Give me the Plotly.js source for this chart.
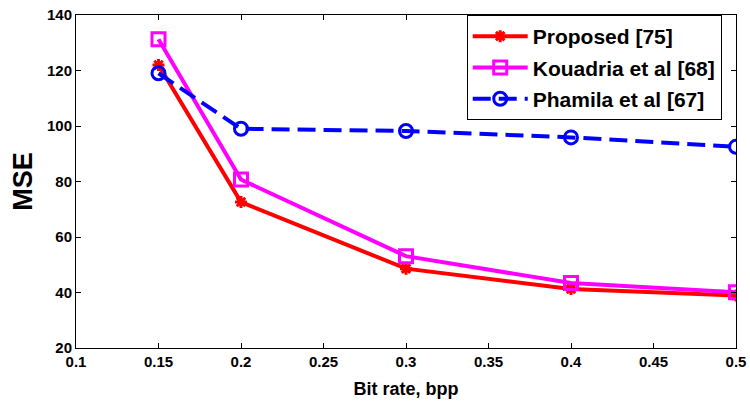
<!DOCTYPE html>
<html>
<head>
<meta charset="utf-8">
<script src="https://cdn.plot.ly/plotly-3.0.1.min.js"></script>
<style>html,body{margin:0;padding:0;background:#fff}#chart{width:750px;height:401px}</style>
</head>
<body>
<div id="chart"></div>
<script>
var bitRate = [0.15, 0.2, 0.3, 0.4, 0.5];
var proposed = [122, 72.6, 48.6, 41.3, 38.9];
var kouadria = [131.3, 80.7, 53.1, 43.4, 40.1];
var phamila = [119, 99, 98.2, 95.9, 92.5];
var seriesNames = ["Proposed [75]", "Kouadria et al [68]", "Phamila et al [67]"];
var xTicks = [0.1, 0.15, 0.2, 0.25, 0.3, 0.35, 0.4, 0.45, 0.5];
var xTickText = ["0.1", "0.15", "0.2", "0.25", "0.3", "0.35", "0.4", "0.45", "0.5"];
var yTicks = [20, 40, 60, 80, 100, 120, 140];
var yTickText = ["20", "40", "60", "80", "100", "120", "140"];

var fam = "Liberation Sans, Arial, sans-serif";
function b(s) { return "<b>" + s + "</b>"; }

var traces = [
  {x: bitRate, y: proposed, name: b(seriesNames[0]), legendgroup: "g1", mode: "lines+markers",
   line: {color: "#ff0000", width: 4},
   marker: {symbol: "asterisk-open", size: 10, color: "#ff0000", line: {color: "#ff0000", width: 3}}},
  {x: bitRate, y: kouadria, name: b(seriesNames[1]), legendgroup: "g2", mode: "lines+markers",
   line: {color: "#ff00ff", width: 4},
   marker: {symbol: "square-open", size: 13, color: "#ff00ff", line: {color: "#ff00ff", width: 3}}},
  {x: bitRate, y: phamila, name: b(seriesNames[2]), legendgroup: "g3", mode: "lines+markers",
   line: {color: "#0000ff", width: 4, dash: "18px,8px"},
   marker: {symbol: "circle-open", size: 13, color: "#0000ff", line: {color: "#0000ff", width: 3}}}
];

var axisCommon = {
  showline: true, linecolor: "#000", linewidth: 1, mirror: "ticks",
  ticks: "inside", ticklen: 5, tickcolor: "#000", tickwidth: 1,
  showgrid: false, zeroline: false,
  tickfont: {family: fam, size: 15, color: "#000", weight: 700}
};

var layout = {
  width: 750, height: 401,
  margin: {l: 76, r: 14, t: 15, b: 53},
  paper_bgcolor: "#fff", plot_bgcolor: "#fff",
  showlegend: true,
  legend: {x: 0.592, xanchor: "left", y: 1, yanchor: "top",
    bgcolor: "#fff", bordercolor: "#000", borderwidth: 1, tracegroupgap: 1, itemwidth: 55,
    font: {family: fam, size: 21, color: "#000", weight: 700}},
  xaxis: Object.assign({}, axisCommon, {
    range: [0.1, 0.5], tickvals: xTicks, ticktext: xTickText.map(b),
    title: {text: b("Bit rate, bpp"), standoff: 13, font: {family: fam, size: 18, color: "#000", weight: 700}}
  }),
  yaxis: Object.assign({}, axisCommon, {
    range: [20, 140], tickvals: yTicks, ticktext: yTickText.map(b),
    title: {text: b("MSE"), standoff: 6, font: {family: fam, size: 27, color: "#000", weight: 700}}
  })
};

Plotly.newPlot("chart", traces, layout, {displayModeBar: false, staticPlot: true});
</script>
</body>
</html>
